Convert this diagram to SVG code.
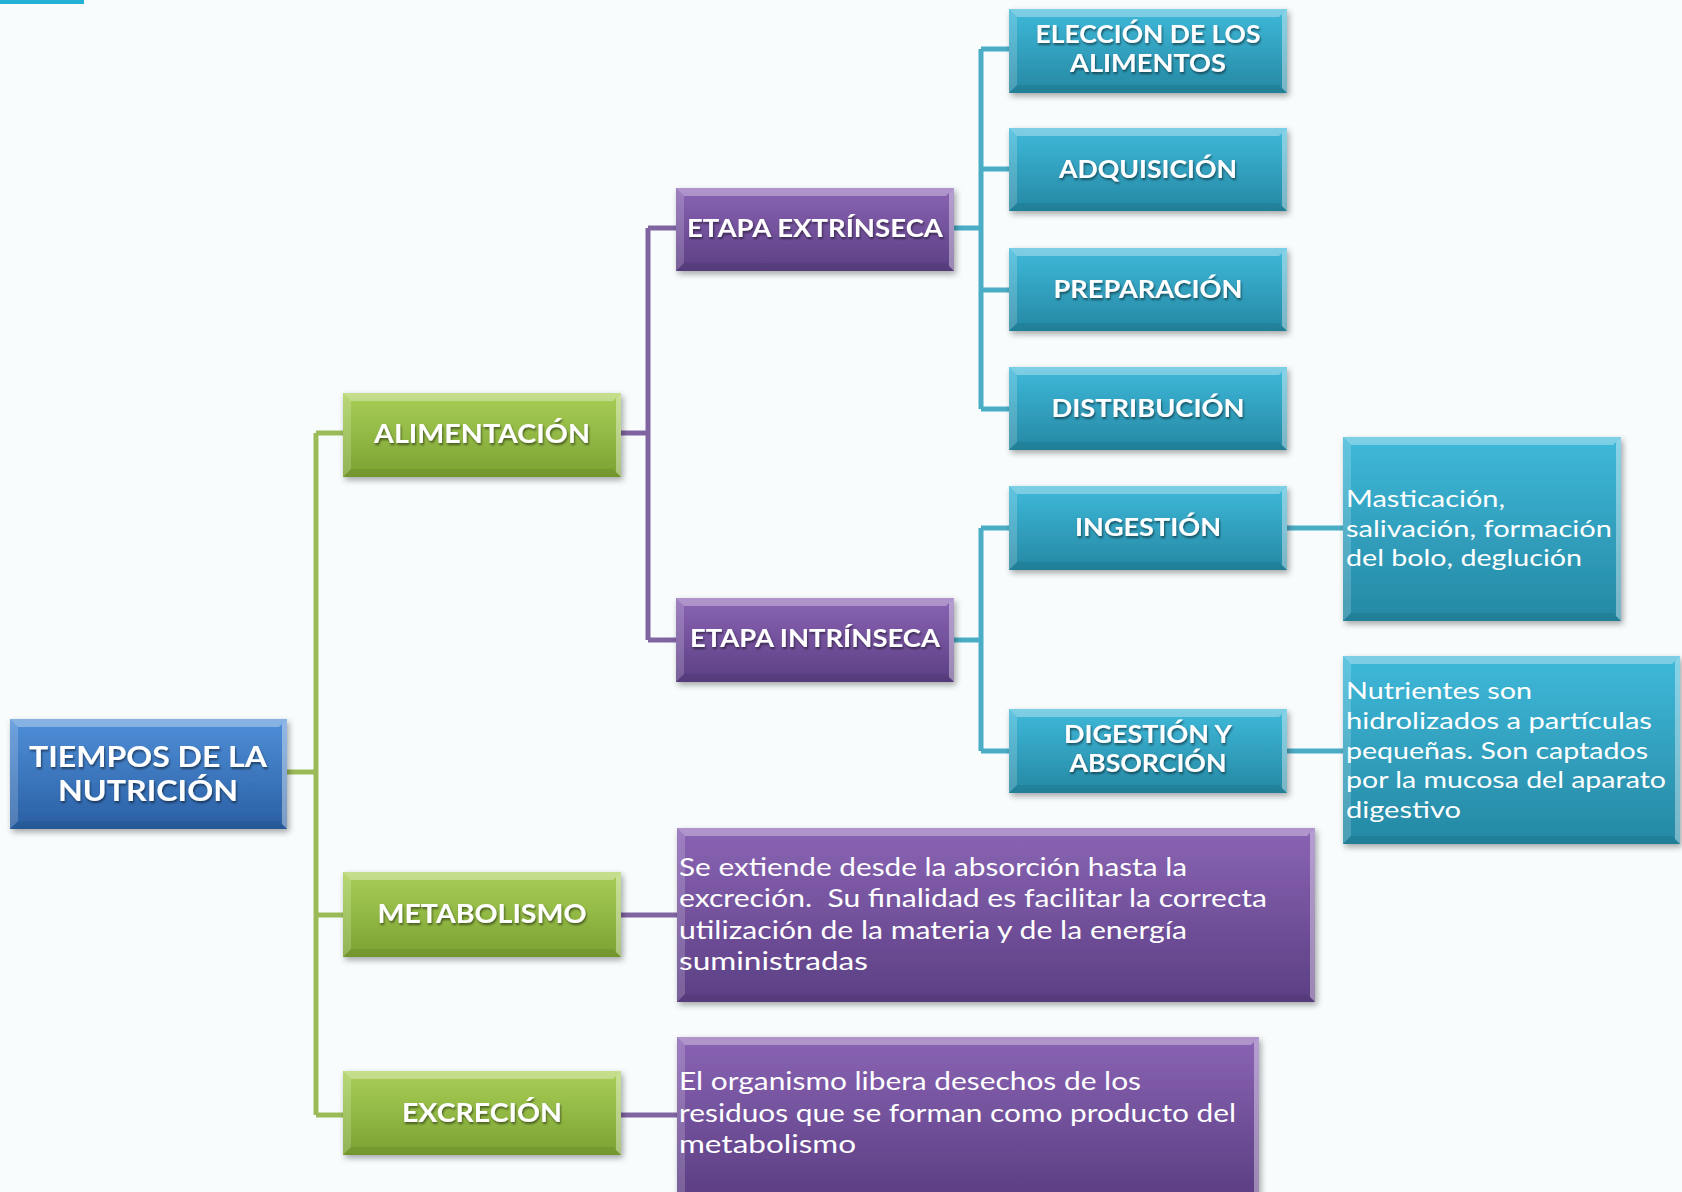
<svg xmlns="http://www.w3.org/2000/svg" width="1682" height="1192" viewBox="0 0 1682 1192">
<defs>
<linearGradient id="gBlue" x1="0" y1="0" x2="0" y2="1"><stop offset="0" stop-color="#4f8fd8"/><stop offset="1" stop-color="#2a5fa3"/></linearGradient>
<linearGradient id="gGreen" x1="0" y1="0" x2="0" y2="1"><stop offset="0" stop-color="#a9cf57"/><stop offset="1" stop-color="#7ba232"/></linearGradient>
<linearGradient id="gPurple" x1="0" y1="0" x2="0" y2="1"><stop offset="0" stop-color="#8a64b4"/><stop offset="1" stop-color="#5c3f84"/></linearGradient>
<linearGradient id="gCyan" x1="0" y1="0" x2="0" y2="1"><stop offset="0" stop-color="#3fb9da"/><stop offset="1" stop-color="#2588a3"/></linearGradient>
<filter id="shadow" x="-10%" y="-10%" width="125%" height="130%"><feDropShadow dx="2" dy="3" stdDeviation="3" flood-color="#000" flood-opacity="0.35"/></filter>
<filter id="tshadow" x="-5%" y="-20%" width="110%" height="150%"><feDropShadow dx="1" dy="2" stdDeviation="1" flood-color="#000" flood-opacity="0.5"/></filter>
</defs>
<style>
.bl{fill:url(#gBlue)} .gr{fill:url(#gGreen)} .pu{fill:url(#gPurple)} .cy{fill:url(#gCyan)}
.bt{fill:#fff;fill-opacity:.32} .bL{fill:#fff;fill-opacity:.18} .bR{fill:#fff;fill-opacity:.38} .bB{fill:#000;fill-opacity:.07}
.h{font-family:Lato,"Open Sans",sans-serif;font-weight:bold;fill:#fff;text-anchor:middle;filter:url(#tshadow)}
.d{font-family:Lato,"Open Sans",sans-serif;fill:#fff}
.cg{stroke:#9bbb59;stroke-width:5;fill:none}
.cp{stroke:#8064a2;stroke-width:5;fill:none}
.cc{stroke:#4bacc6;stroke-width:5;fill:none}
</style>
<rect width="1682" height="1192" fill="#f8fcfd"/>
<rect x="0" y="0" width="84" height="4" fill="#23b2d6"/>

<g id="connectors">
<path class="cg" d="M287 772H316M316 433V1115M316 433H343M316 915H343M316 1115H343"/>
<path class="cp" d="M621 433H648M648 228V640M648 228H676M648 640H676M621 915H677M621 1115H677"/>
<path class="cc" d="M954 228H981M981 49V409M981 49H1009M981 169H1009M981 290H1009M981 409H1009M954 640H981M981 528V751M981 528H1009M981 751H1009M1287 528H1343M1287 751H1343"/>
</g>

<g id="n-tiempos">
<g filter="url(#shadow)">
<rect class="bl" x="10" y="719" width="277" height="110"/>
<polygon class="bt" points="10,719 287,719 279,727 18,727"/><polygon class="bL" points="10,719 18,727 18,821 10,829"/><polygon class="bR" points="287,719 287,829 282,824 282,724"/><polygon class="bB" points="10,829 287,829 279,821 18,821"/>
</g>
<text class="h" font-size="28"><tspan x="148" y="767" textLength="238" lengthAdjust="spacingAndGlyphs">TIEMPOS DE LA</tspan><tspan x="148" y="801" textLength="180" lengthAdjust="spacingAndGlyphs">NUTRICIÓN</tspan></text>
</g>

<g id="n-alimentacion">
<g filter="url(#shadow)">
<rect class="gr" x="343" y="393" width="278" height="84"/>
<polygon class="bt" points="343,393 621,393 613,401 351,401"/><polygon class="bL" points="343,393 351,401 351,469 343,477"/><polygon class="bR" points="621,393 621,477 616,472 616,398"/><polygon class="bB" points="343,477 621,477 613,469 351,469"/>
</g>
<text class="h" font-size="27" x="482" y="443" textLength="216" lengthAdjust="spacingAndGlyphs">ALIMENTACIÓN</text>
</g>

<g id="n-metabolismo">
<g filter="url(#shadow)">
<rect class="gr" x="343" y="872" width="278" height="85"/>
<polygon class="bt" points="343,872 621,872 613,880 351,880"/><polygon class="bL" points="343,872 351,880 351,949 343,957"/><polygon class="bR" points="621,872 621,957 616,952 616,877"/><polygon class="bB" points="343,957 621,957 613,949 351,949"/>
</g>
<text class="h" font-size="27" x="482" y="923" textLength="209" lengthAdjust="spacingAndGlyphs">METABOLISMO</text>
</g>

<g id="n-excrecion">
<g filter="url(#shadow)">
<rect class="gr" x="343" y="1071" width="278" height="84"/>
<polygon class="bt" points="343,1071 621,1071 613,1079 351,1079"/><polygon class="bL" points="343,1071 351,1079 351,1147 343,1155"/><polygon class="bR" points="621,1071 621,1155 616,1150 616,1076"/><polygon class="bB" points="343,1155 621,1155 613,1147 351,1147"/>
</g>
<text class="h" font-size="27" x="482" y="1122" textLength="160" lengthAdjust="spacingAndGlyphs">EXCRECIÓN</text>
</g>

<g id="n-extrinseca">
<g filter="url(#shadow)">
<rect class="pu" x="676" y="188" width="278" height="83"/>
<polygon class="bt" points="676,188 954,188 946,196 684,196"/><polygon class="bL" points="676,188 684,196 684,263 676,271"/><polygon class="bR" points="954,188 954,271 949,266 949,193"/><polygon class="bB" points="676,271 954,271 946,263 684,263"/>
</g>
<text class="h" font-size="25" x="815" y="237" textLength="256" lengthAdjust="spacingAndGlyphs">ETAPA EXTRÍNSECA</text>
</g>

<g id="n-intrinseca">
<g filter="url(#shadow)">
<rect class="pu" x="676" y="598" width="278" height="84"/>
<polygon class="bt" points="676,598 954,598 946,606 684,606"/><polygon class="bL" points="676,598 684,606 684,674 676,682"/><polygon class="bR" points="954,598 954,682 949,677 949,603"/><polygon class="bB" points="676,682 954,682 946,674 684,674"/>
</g>
<text class="h" font-size="25" x="815" y="647" textLength="250" lengthAdjust="spacingAndGlyphs">ETAPA INTRÍNSECA</text>
</g>

<g id="n-eleccion">
<g filter="url(#shadow)">
<rect class="cy" x="1009" y="9" width="278" height="84"/>
<polygon class="bt" points="1009,9 1287,9 1279,17 1017,17"/><polygon class="bL" points="1009,9 1017,17 1017,85 1009,93"/><polygon class="bR" points="1287,9 1287,93 1282,88 1282,14"/><polygon class="bB" points="1009,93 1287,93 1279,85 1017,85"/>
</g>
<text class="h" font-size="24"><tspan x="1148" y="43" textLength="225" lengthAdjust="spacingAndGlyphs">ELECCIÓN DE LOS</tspan><tspan x="1148" y="72" textLength="156" lengthAdjust="spacingAndGlyphs">ALIMENTOS</tspan></text>
</g>

<g id="n-adquisicion">
<g filter="url(#shadow)">
<rect class="cy" x="1009" y="128" width="278" height="83"/>
<polygon class="bt" points="1009,128 1287,128 1279,136 1017,136"/><polygon class="bL" points="1009,128 1017,136 1017,203 1009,211"/><polygon class="bR" points="1287,128 1287,211 1282,206 1282,133"/><polygon class="bB" points="1009,211 1287,211 1279,203 1017,203"/>
</g>
<text class="h" font-size="25" x="1148" y="178" textLength="178" lengthAdjust="spacingAndGlyphs">ADQUISICIÓN</text>
</g>

<g id="n-preparacion">
<g filter="url(#shadow)">
<rect class="cy" x="1009" y="248" width="278" height="83"/>
<polygon class="bt" points="1009,248 1287,248 1279,256 1017,256"/><polygon class="bL" points="1009,248 1017,256 1017,323 1009,331"/><polygon class="bR" points="1287,248 1287,331 1282,326 1282,253"/><polygon class="bB" points="1009,331 1287,331 1279,323 1017,323"/>
</g>
<text class="h" font-size="25" x="1148" y="298" textLength="189" lengthAdjust="spacingAndGlyphs">PREPARACIÓN</text>
</g>

<g id="n-distribucion">
<g filter="url(#shadow)">
<rect class="cy" x="1009" y="367" width="278" height="83"/>
<polygon class="bt" points="1009,367 1287,367 1279,375 1017,375"/><polygon class="bL" points="1009,367 1017,375 1017,442 1009,450"/><polygon class="bR" points="1287,367 1287,450 1282,445 1282,372"/><polygon class="bB" points="1009,450 1287,450 1279,442 1017,442"/>
</g>
<text class="h" font-size="25" x="1148" y="417" textLength="193" lengthAdjust="spacingAndGlyphs">DISTRIBUCIÓN</text>
</g>

<g id="n-ingestion">
<g filter="url(#shadow)">
<rect class="cy" x="1009" y="486" width="278" height="84"/>
<polygon class="bt" points="1009,486 1287,486 1279,494 1017,494"/><polygon class="bL" points="1009,486 1017,494 1017,562 1009,570"/><polygon class="bR" points="1287,486 1287,570 1282,565 1282,491"/><polygon class="bB" points="1009,570 1287,570 1279,562 1017,562"/>
</g>
<text class="h" font-size="25" x="1148" y="536" textLength="146" lengthAdjust="spacingAndGlyphs">INGESTIÓN</text>
</g>

<g id="n-digestion">
<g filter="url(#shadow)">
<rect class="cy" x="1009" y="709" width="278" height="84"/>
<polygon class="bt" points="1009,709 1287,709 1279,717 1017,717"/><polygon class="bL" points="1009,709 1017,717 1017,785 1009,793"/><polygon class="bR" points="1287,709 1287,793 1282,788 1282,714"/><polygon class="bB" points="1009,793 1287,793 1279,785 1017,785"/>
</g>
<text class="h" font-size="24"><tspan x="1148" y="743" textLength="168" lengthAdjust="spacingAndGlyphs">DIGESTIÓN Y</tspan><tspan x="1148" y="772" textLength="157" lengthAdjust="spacingAndGlyphs">ABSORCIÓN</tspan></text>
</g>

<g id="n-masticacion">
<g filter="url(#shadow)">
<rect class="cy" x="1343" y="437" width="278" height="184"/>
<polygon class="bt" points="1343,437 1621,437 1613,445 1351,445"/><polygon class="bL" points="1343,437 1351,445 1351,613 1343,621"/><polygon class="bR" points="1621,437 1621,621 1616,616 1616,442"/><polygon class="bB" points="1343,621 1621,621 1613,613 1351,613"/>
</g>
<text class="d" font-size="24"><tspan x="1346" y="507" textLength="159" lengthAdjust="spacingAndGlyphs">Masticación,</tspan><tspan x="1346" y="537" textLength="266" lengthAdjust="spacingAndGlyphs">salivación, formación</tspan><tspan x="1346" y="566" textLength="236" lengthAdjust="spacingAndGlyphs">del bolo, deglución</tspan></text>
</g>

<g id="n-nutrientes">
<g filter="url(#shadow)">
<rect class="cy" x="1343" y="656" width="337" height="188"/>
<polygon class="bt" points="1343,656 1680,656 1672,664 1351,664"/><polygon class="bL" points="1343,656 1351,664 1351,836 1343,844"/><polygon class="bR" points="1680,656 1680,844 1675,839 1675,661"/><polygon class="bB" points="1343,844 1680,844 1672,836 1351,836"/>
</g>
<text class="d" font-size="24"><tspan x="1346" y="699" textLength="186" lengthAdjust="spacingAndGlyphs">Nutrientes son</tspan><tspan x="1346" y="729" textLength="306" lengthAdjust="spacingAndGlyphs">hidrolizados a partículas</tspan><tspan x="1346" y="759" textLength="302" lengthAdjust="spacingAndGlyphs">pequeñas. Son captados</tspan><tspan x="1346" y="788" textLength="320" lengthAdjust="spacingAndGlyphs">por la mucosa del aparato</tspan><tspan x="1346" y="818" textLength="115" lengthAdjust="spacingAndGlyphs">digestivo</tspan></text>
</g>

<g id="n-metab-desc">
<g filter="url(#shadow)">
<rect class="pu" x="677" y="828" width="638" height="174"/>
<polygon class="bt" points="677,828 1315,828 1307,836 685,836"/><polygon class="bL" points="677,828 685,836 685,994 677,1002"/><polygon class="bR" points="1315,828 1315,1002 1310,997 1310,833"/><polygon class="bB" points="677,1002 1315,1002 1307,994 685,994"/>
</g>
<text class="d" font-size="25.5" xml:space="preserve"><tspan x="679" y="876" textLength="508" lengthAdjust="spacingAndGlyphs">Se extiende desde la absorción hasta la</tspan><tspan x="679" y="907" textLength="588" lengthAdjust="spacingAndGlyphs">excreción.  Su finalidad es facilitar la correcta</tspan><tspan x="679" y="939" textLength="508" lengthAdjust="spacingAndGlyphs">utilización de la materia y de la energía</tspan><tspan x="679" y="970" textLength="189" lengthAdjust="spacingAndGlyphs">suministradas</tspan></text>
</g>

<g id="n-excr-desc">
<g filter="url(#shadow)">
<rect class="pu" x="677" y="1037" width="582" height="157"/>
<polygon class="bt" points="677,1037 1259,1037 1251,1045 685,1045"/><polygon class="bL" points="677,1037 685,1045 685,1194 677,1194"/><polygon class="bR" points="1259,1037 1259,1194 1254,1194 1254,1042"/>
</g>
<text class="d" font-size="25.5"><tspan x="679" y="1090" textLength="462" lengthAdjust="spacingAndGlyphs">El organismo libera desechos de los</tspan><tspan x="679" y="1122" textLength="557" lengthAdjust="spacingAndGlyphs">residuos que se forman como producto del</tspan><tspan x="679" y="1153" textLength="177" lengthAdjust="spacingAndGlyphs">metabolismo</tspan></text>
</g>
</svg>
